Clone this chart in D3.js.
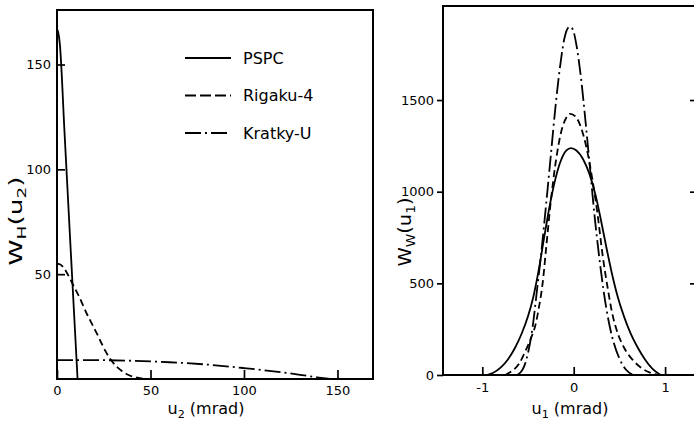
<!DOCTYPE html>
<html>
<head>
<meta charset="utf-8">
<script src="https://cdn.jsdelivr.net/npm/d3@7"></script>
<style>
  body { margin: 0; background: #fff; }
  text { font-family: "DejaVu Sans", sans-serif; fill: #000; }
</style>
</head>
<body>
<div id="chart"></div>
<script>

// left panel, W_H(u2) against u2 in mrad
const hU_pspc = [0, 0.6, 1.5, 4, 7, 11];
const hW_pspc = [167, 165.5, 160, 118, 67, 0];
const hU_rigaku = [0, 2, 4, 6, 8, 10, 12, 14, 16, 18, 20, 22, 24, 26, 28, 30, 32, 34, 36, 38, 40, 43, 46, 50];
const hW_rigaku = [55, 54.5, 52.5, 49.5, 46, 42.5, 39, 35, 31, 27.5, 24, 20.5, 16.7, 13.2, 10.2, 7.8, 5.8, 4.3, 3, 2, 1.3, 0.6, 0.2, 0];
const hU_kratky = [0, 20, 40, 60, 80, 100, 120, 130, 140, 146];
const hW_kratky = [9, 9, 8.7, 8, 6.9, 5.2, 3.2, 2, 0.7, 0];

// right panel, W_W(u1) against u1 in mrad
const wU_pspc = [-0.95, -0.88, -0.8, -0.72, -0.64, -0.57, -0.5, -0.44, -0.38, -0.32, -0.26, -0.2, -0.14, -0.08, -0.03, 0.03, 0.1, 0.17, 0.24, 0.3, 0.36, 0.42, 0.48, 0.55, 0.62, 0.7, 0.78, 0.86, 0.95];
const wW_pspc = [0, 12, 40, 85, 150, 225, 320, 430, 580, 760, 930, 1070, 1170, 1225, 1238, 1225, 1180, 1100, 980, 840, 690, 550, 430, 320, 230, 150, 85, 35, 0];
const wU_rigaku = [-0.75, -0.68, -0.6, -0.52, -0.46, -0.42, -0.38, -0.34, -0.3, -0.25, -0.2, -0.14, -0.08, -0.04, 0.02, 0.08, 0.14, 0.2, 0.26, 0.32, 0.37, 0.42, 0.47, 0.55, 0.65, 0.75, 0.85, 0.92];
const wW_rigaku = [0, 20, 60, 140, 210, 270, 370, 500, 700, 950, 1150, 1320, 1405, 1425, 1410, 1350, 1240, 1080, 880, 640, 480, 340, 245, 150, 80, 35, 10, 0];
const wU_kratky = [-0.62, -0.58, -0.54, -0.5, -0.45, -0.4, -0.35, -0.3, -0.25, -0.2, -0.15, -0.1, -0.06, -0.04, -0.01, 0.03, 0.08, 0.13, 0.18, 0.23, 0.28, 0.33, 0.38, 0.43, 0.5, 0.57, 0.65];
const wW_kratky = [0, 15, 50, 120, 260, 470, 690, 940, 1200, 1460, 1680, 1840, 1895, 1900, 1885, 1800, 1620, 1380, 1120, 860, 640, 450, 300, 190, 90, 30, 0];

const seriesNames = ["PSPC", "Rigaku-4", "Kratky-U"];

const hTicksX = [0, 50, 100, 150];
const hTicksY = [50, 100, 150];
const wTicksX = [-1, 0, 1];
const wTicksY = [0, 500, 1000, 1500];

var width = 694;
var height = 422;

var dashes = {"PSPC": null, "Rigaku-4": "7,4", "Kratky-U": "16,4,2,4"};

const zip = (a, b) => a.map((k, i) => [k, b[i]]);

var svg = d3.select("#chart")
  .append("svg")
    .attr("width", width)
    .attr("height", height)

// scales
var xH = d3.scaleLinear().domain([0, 169]).range([57, 373])
var yH = d3.scaleLinear().domain([0, 176]).range([379, 10])
var xW = d3.scaleLinear().domain([-1.43, 1.36]).range([443, 698])
var yW = d3.scaleLinear().domain([0, 2013]).range([375, 6])

function styleAxis(g) {
    g.select(".domain").remove();
    g.selectAll("line").attr("stroke", "#000").attr("stroke-width", 1.7);
    g.selectAll("text").attr("font-size", 13).attr("font-family", "DejaVu Sans, sans-serif");
}

function frame(x, y) {
    svg.append("rect")
        .attr("x", x.range()[0])
        .attr("y", y.range()[1])
        .attr("width", x.range()[1] - x.range()[0])
        .attr("height", y.range()[0] - y.range()[1])
        .attr("fill", "none")
        .attr("stroke", "#000")
        .attr("stroke-width", 2)
}

frame(xH, yH)
frame(xW, yW)

// left panel axes
svg.append("g")
    .attr("transform", `translate(0,${yH.range()[0]})`)
    .call(d3.axisBottom(xH).tickValues(hTicksX).tickSize(-9).tickPadding(7).tickFormat(d => String(d)))
    .call(styleAxis)

svg.append("g")
    .attr("transform", `translate(${xH.range()[0]},0)`)
    .call(d3.axisLeft(yH).tickValues(hTicksY).tickSize(-8).tickPadding(6).tickFormat(d => String(d)))
    .call(styleAxis)

// right panel axes
svg.append("g")
    .attr("transform", `translate(0,${yW.range()[0]})`)
    .call(d3.axisBottom(xW).tickValues(wTicksX).tickSize(-8).tickPadding(8).tickFormat(d => String(d)))
    .call(styleAxis)

svg.append("g")
    .attr("transform", `translate(${xW.range()[0]},0)`)
    .call(d3.axisLeft(yW).tickValues(wTicksY).tickSize(6).tickPadding(3).tickFormat(d => String(d)))
    .call(styleAxis)

svg.append("g")
    .attr("transform", `translate(${xW.range()[1]},0)`)
    .call(d3.axisRight(yW).tickValues(wTicksY.slice(1)).tickSize(-8).tickFormat(""))
    .call(styleAxis)

// curves
function curve(data, x, y, name) {
    svg.append("path")
        .datum(data)
        .attr("fill", "none")
        .attr("stroke", "#000")
        .attr("stroke-width", 1.8)
        .attr("stroke-dasharray", dashes[name])
        .attr("d", d3.line().curve(d3.curveMonotoneX)
            .x(d => x(d[0]))
            .y(d => y(d[1])))
}

curve(zip(hU_pspc, hW_pspc), xH, yH, "PSPC")
curve(zip(hU_rigaku, hW_rigaku), xH, yH, "Rigaku-4")
curve(zip(hU_kratky, hW_kratky), xH, yH, "Kratky-U")

curve(zip(wU_pspc, wW_pspc), xW, yW, "PSPC")
curve(zip(wU_rigaku, wW_rigaku), xW, yW, "Rigaku-4")
curve(zip(wU_kratky, wW_kratky), xW, yW, "Kratky-U")

// legend
var legend = svg.append("g").attr("transform", "translate(185,58)")
seriesNames.forEach(function(name, i) {
    legend.append("line")
        .attr("x1", 0).attr("x2", 46)
        .attr("y1", i * 37.5).attr("y2", i * 37.5)
        .attr("stroke", "#000")
        .attr("stroke-width", 1.8)
        .attr("stroke-dasharray", name == "Rigaku-4" ? "11,4" : dashes[name])
    legend.append("text")
        .attr("x", 58)
        .attr("y", i * 37.5)
        .attr("dy", "0.36em")
        .attr("font-size", 16)
        .text(name)
});

// axis titles
function subLabel(g, main, sub1, mid, sub2, tail) {
    var t = g.append("text").attr("text-anchor", "middle");
    t.append("tspan").text(main);
    t.append("tspan").attr("font-size", "0.7em").attr("dy", 4).text(sub1);
    t.append("tspan").attr("dy", -4).text(mid);
    if (sub2) {
        t.append("tspan").attr("font-size", "0.7em").attr("dy", 4).text(sub2);
        t.append("tspan").attr("dy", -4).text(tail);
    }
    return t;
}

subLabel(svg.append("g").attr("transform", "translate(22,221) rotate(-90) scale(1.55,1)"), "W", "H", "(u", "2", ")").attr("font-size", 17)
subLabel(svg.append("g").attr("transform", "translate(411,232) rotate(-90) scale(1.15,1)"), "W", "W", "(u", "1", ")").attr("font-size", 17)
subLabel(svg.append("g").attr("transform", "translate(206,414)"), "u", "2", " (mrad)").attr("font-size", 16)
subLabel(svg.append("g").attr("transform", "translate(570,414)"), "u", "1", " (mrad)").attr("font-size", 16)

</script>
</body>
</html>
